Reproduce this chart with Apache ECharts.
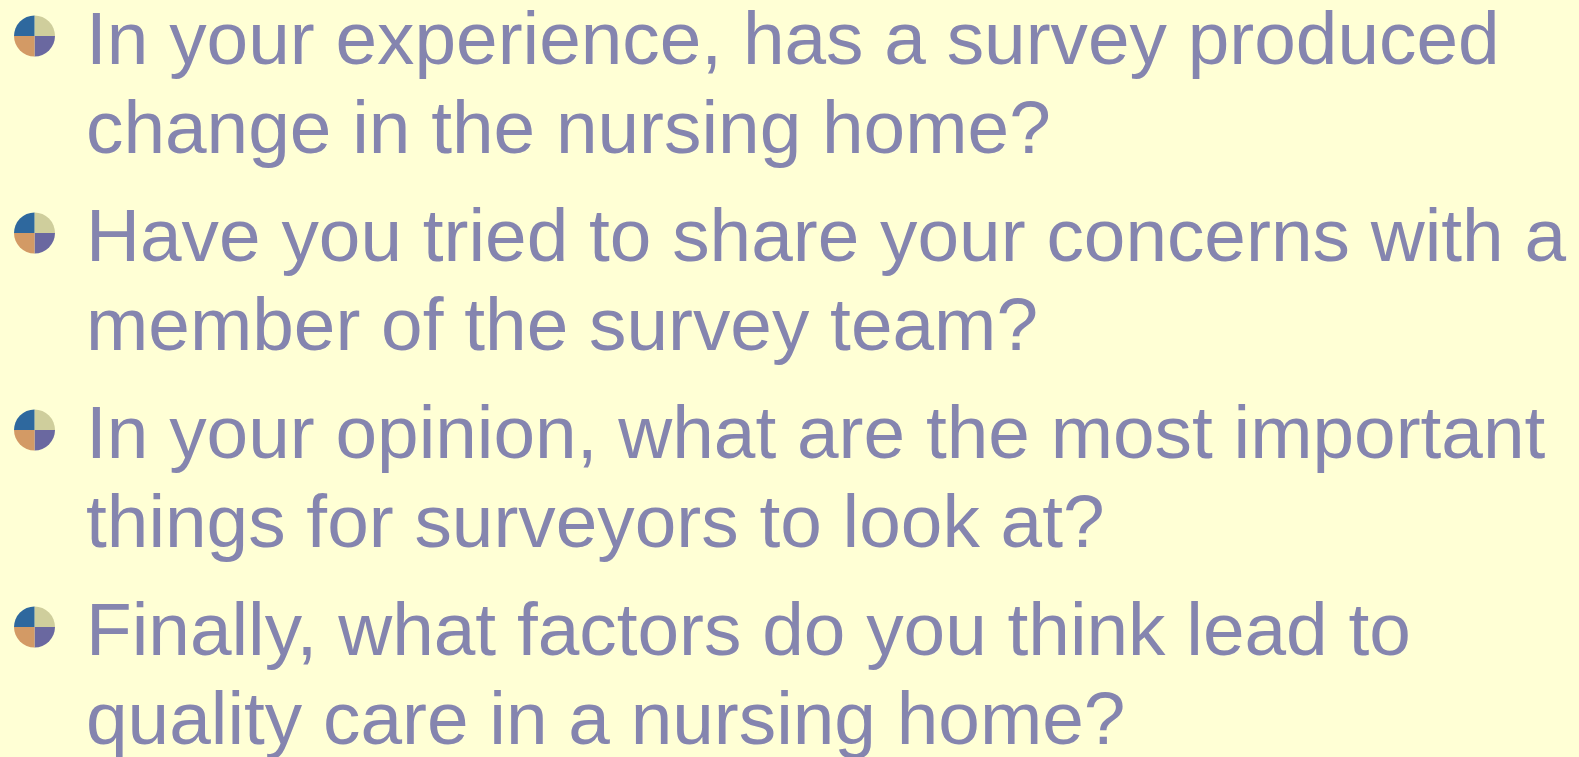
<!DOCTYPE html>
<html>
<head>
<meta charset="utf-8">
<script src="https://cdn.jsdelivr.net/npm/echarts@6/dist/echarts.min.js"></script>
<style>
  html, body { margin: 0; padding: 0; background: #FFFFD5; }
  #chart { width: 1579px; height: 757px; }
</style>
</head>
<body>
<div id="chart"></div>
<script>
// slide content: one entry per bullet, each split into its wrapped lines
const questions = [
  ['In your experience, has a survey produced', 'change in the nursing home?'],
  ['Have you tried to share your concerns with a', 'member of the survey team?'],
  ['In your opinion, what are the most important', 'things for surveyors to look at?'],
  ['Finally, what factors do you think lead to', 'quality care in a nursing home?'],
]
// bullet quadrants, clockwise from top-right
const quadrantNames = ['topRight', 'bottomRight', 'bottomLeft', 'topLeft']
const quadrantValues = [1, 1, 1, 1]
const quadrantColors = ['#CFCE9C', '#6A68A0', '#D39A65', '#2E689E']

const FONT = '"Liberation Sans", Arial, sans-serif'
const INK = '#8585AF'
const textX = 86
const firstBaseline = 64
const bulletStep = 197
const lineStep = 89.3
const fontSize = 74.8
const midOffset = 21 // baseline -> middle of text box

const chart = echarts.init(document.getElementById('chart'), null, { renderer: 'canvas' })

const series = questions.map((q, i) => ({
  type: 'pie',
  silent: true,
  animation: false,
  center: [34.5, firstBaseline + i * bulletStep - 28],
  radius: [0, 20.5],
  startAngle: 90,
  clockwise: true,
  label: { show: false },
  labelLine: { show: false },
  emphasis: { disabled: true },
  itemStyle: { borderWidth: 0 },
  data: quadrantValues.map((v, k) => ({
    name: quadrantNames[k], value: v, itemStyle: { color: quadrantColors[k] },
  })),
}))

const graphic = []
questions.forEach((lines, i) => {
  lines.forEach((line, j) => {
    graphic.push({
      type: 'text',
      x: textX,
      y: firstBaseline + i * bulletStep + j * lineStep - midOffset,
      silent: true,
      style: {
        text: line,
        fill: INK,
        font: `${fontSize}px ${FONT}`,
        textAlign: 'left',
        textVerticalAlign: 'middle',
      },
    })
  })
})

chart.setOption({
  backgroundColor: '#FFFFD5',
  animation: false,
  series,
  graphic,
})
</script>
</body>
</html>
